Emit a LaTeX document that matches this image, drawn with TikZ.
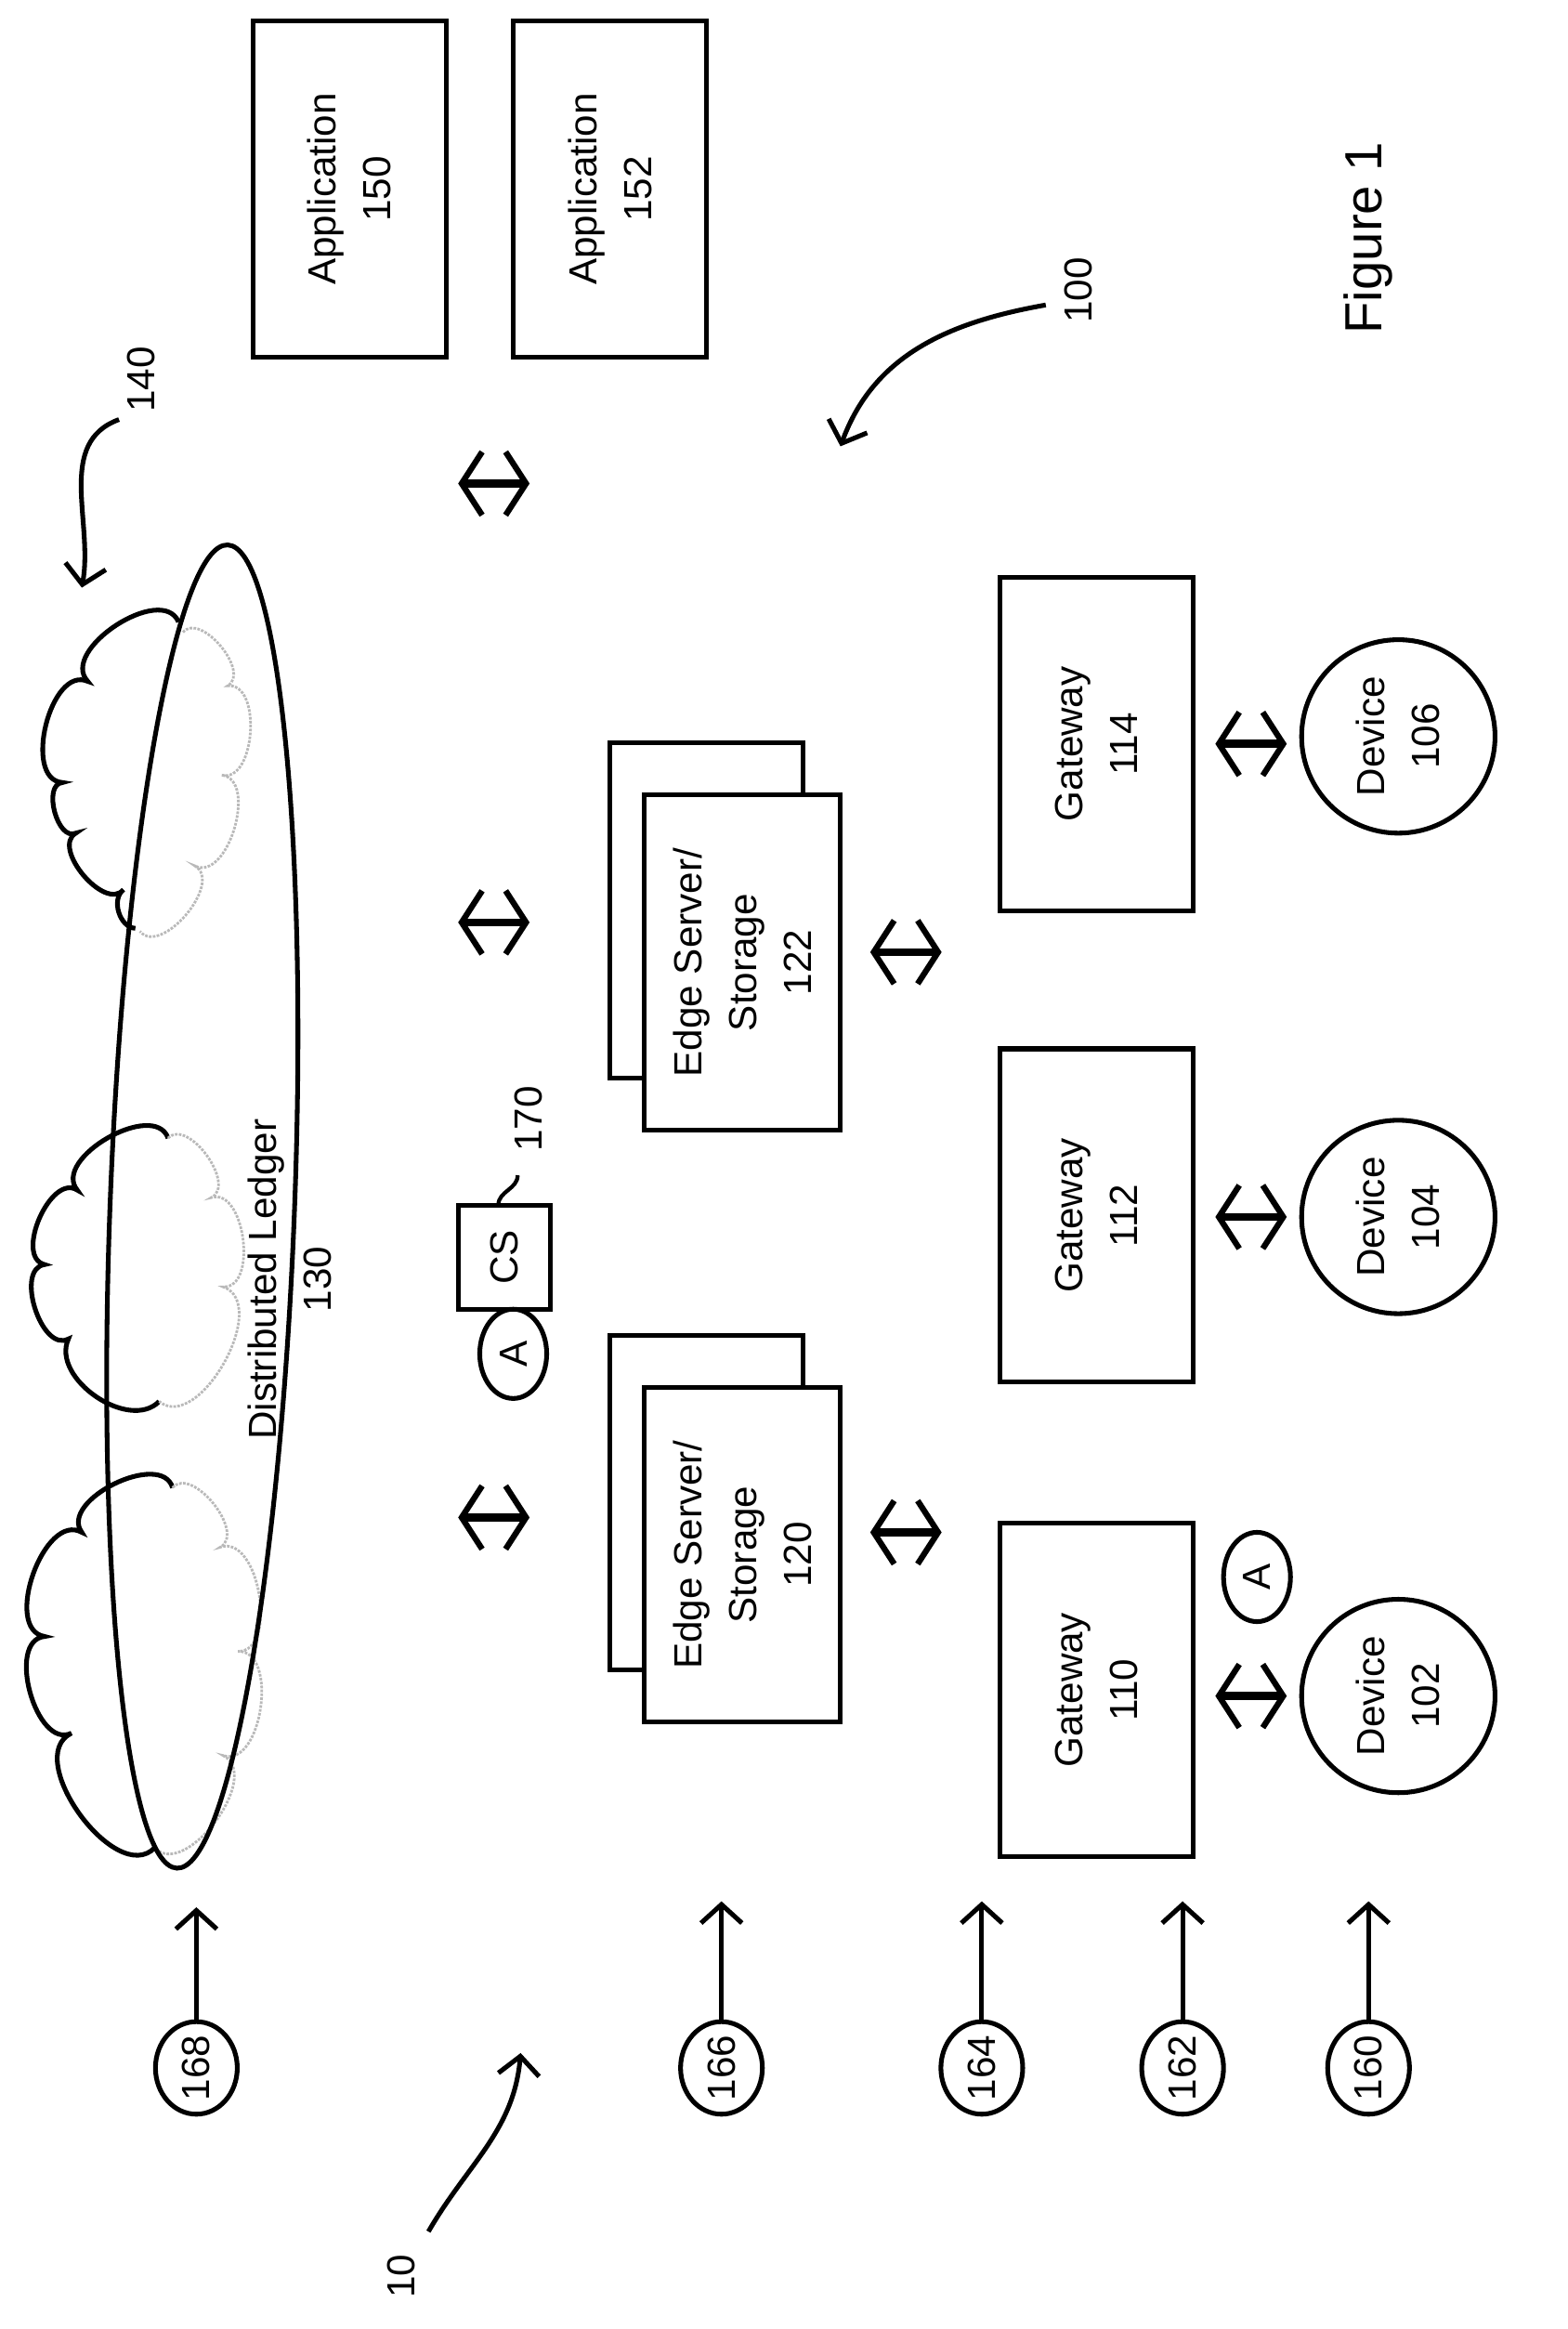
\documentclass[tikz,border=0pt]{standalone}
\usepackage{fontspec}
\setmainfont{Liberation Sans}
\usetikzlibrary{shapes.geometric,arrows.meta}

\tikzset{
  box/.style={draw, line width=3.6pt, align=center, inner sep=0pt},
  txt/.style={rotate=90, align=center, font=\fontsize{30}{42}\selectfont},
  dbl/.style={line width=6pt, {Straight Barb[length=0.55cm,width=1.7cm,line width=4.5pt]}-{Straight Barb[length=0.55cm,width=1.7cm,line width=4.5pt]}},
  ptr/.style={line width=3.6pt, -{Straight Barb[length=0.5cm,width=1.1cm,line width=3.6pt]}},
  cld/.style={line width=3.6pt},
  cldin/.style={line width=2pt, gray!55, densely dotted},
}

\begin{document}
\begin{tikzpicture}[x=0.04cm,y=0.04cm]
\useasboundingbox (0,0) rectangle (1054,-1565.5);

% applications
\node[box, txt, minimum width=9.04cm, minimum height=5.2cm] (app150) at (235,-127) {Application\\150};
\node[box, txt, minimum width=9.04cm, minimum height=5.2cm] (app152) at (410,-127) {Application\\152};
\node[txt, font=\fontsize{40}{48}\selectfont] (fig) at (920,-160) {Figure 1};

% clouds
\draw[cld] (120,-418) to[bend right=100] (59,-458) to[bend right=100] (42,-526)
  to[bend right=100] (51,-560) to[bend right=100] (83,-598) to[bend right=70] (91,-624);
\draw[cldin] (123,-425) to[bend left=100] (153,-461) to[bend left=100] (149,-521)
  to[bend left=100] (131,-582) to[bend left=100] (94,-626);
\draw[cld] (113,-765) to[bend right=100] (52,-800) to[bend right=100] (30,-850)
  to[bend right=100] (46,-900) to[bend right=80] (107,-942);
\draw[cldin] (113,-765) to[bend left=100] (142,-805) to[bend left=100] (150,-865)
  to[bend left=100] (107,-942);
\draw[cld] (116,-1000) to[bend right=100] (55,-1030) to[bend right=100] (30,-1100)
  to[bend right=100] (48,-1165) to[bend right=100] (104,-1242);
\draw[cldin] (116,-1000) to[bend left=100] (148,-1040) to[bend left=100] (160,-1110)
  to[bend left=100] (150,-1180) to[bend left=100] (104,-1242);

% ledger
\node[draw, ellipse, line width=3.6pt, rotate=87.8, minimum width=35.6cm, minimum height=4.96cm] (ledger) at (136,-811) {};
\node[txt] (ledgertxt) at (195,-860) {Distributed Ledger\\130};

% CS and agents
\node[box, txt, minimum width=2.8cm, minimum height=2.48cm] (cs) at (339,-845) {CS};
\node[draw, ellipse, line width=3.6pt, txt, minimum width=2.4cm, minimum height=1.8cm, inner sep=0pt] (agent1) at (345,-910) {A};
\node[draw, ellipse, line width=3.6pt, txt, minimum width=2.4cm, minimum height=1.8cm, inner sep=0pt] (agent2) at (845,-1060) {A};
\node[txt] (l170) at (355,-752) {170};
\draw[line width=3pt] (335,-810) to[out=90,in=-90] (348,-790);

% edge servers
\node[box, txt, minimum width=9cm, minimum height=5.2cm] (edge122b) at (475,-612) {};
\node[box, txt, fill=white, minimum width=9cm, minimum height=5.28cm] (edge122) at (499,-647) {Edge Server/\\Storage\\122};
\node[box, txt, minimum width=9cm, minimum height=5.2cm] (edge120b) at (475,-1010) {};
\node[box, txt, fill=white, minimum width=9cm, minimum height=5.28cm] (edge120) at (499,-1045) {Edge Server/\\Storage\\120};

% gateways
\node[box, txt, minimum width=8.96cm, minimum height=5.2cm] (gw114) at (737,-500) {Gateway\\114};
\node[box, txt, minimum width=8.96cm, minimum height=5.2cm] (gw112) at (737,-817) {Gateway\\112};
\node[box, txt, minimum width=8.96cm, minimum height=5.2cm] (gw110) at (737,-1136) {Gateway\\110};

% devices
\node[draw, circle, line width=3.6pt, txt, minimum size=5.2cm] (dev106) at (940,-495) {Device\\106};
\node[draw, circle, line width=3.6pt, txt, minimum size=5.2cm] (dev104) at (940,-818) {Device\\104};
\node[draw, circle, line width=3.6pt, txt, minimum size=5.2cm] (dev102) at (940,-1140) {Device\\102};

% double arrows
\foreach \xa/\yy in {308/325,308/620,308/1020,585/640,585/1030,817/500,817/818,817/1140}{
  \coordinate (la) at (\xa,-\yy);
  \draw[dbl] (la) -- ++(48,0);
}

% reference numerals
\foreach \nm/\xx/\yy in {168/132/1282,166/485/1278,164/660/1278,162/795/1278,160/920/1278}{
  \node[draw, ellipse, line width=3.6pt, txt, minimum width=2.4cm, minimum height=2.2cm, inner sep=0pt] (n\nm) at (\xx,-1390) {\nm};
  \coordinate (t\nm) at (\xx,-\yy);
  \draw[ptr] (n\nm.east) -- (t\nm);
}

% lead lines
\node[txt] (l140) at (95,-255) {140};
\coordinate (p140) at (55,-395);
\draw[ptr] (80,-282) to[out=200,in=80] (p140);
\node[txt] (l100) at (725,-195) {100};
\coordinate (p100) at (565,-300);
\draw[ptr] (703,-205) to[out=190,in=70] (p100);
\node[txt] (l10) at (270,-1530) {10};
\coordinate (p10) at (350,-1380);
\draw[ptr] (288,-1500) to[out=60,in=-95] (p10);
\end{tikzpicture}
\end{document}
